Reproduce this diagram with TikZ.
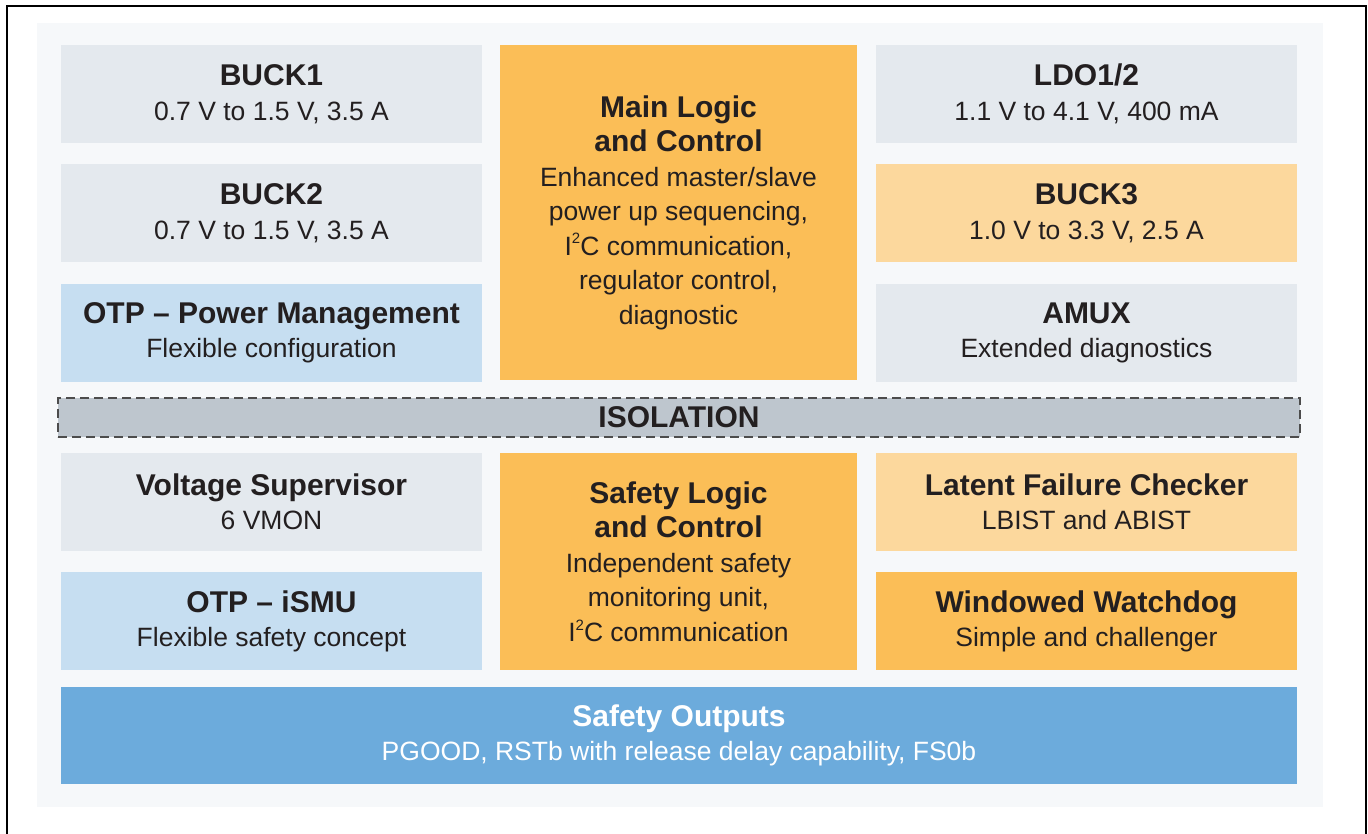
\documentclass[tikz,border=0pt]{standalone}
\usepackage{fontspec}
\setmainfont{Liberation Sans}
\usetikzlibrary{positioning}
\definecolor{panel}{HTML}{F6F8FA}
\definecolor{gry}{HTML}{E4E9EE}
\definecolor{lblu}{HTML}{C6DEF1}
\definecolor{org}{HTML}{FBBE57}
\definecolor{lorg}{HTML}{FCD89D}
\definecolor{dblu}{HTML}{6CABDC}
\definecolor{isol}{HTML}{BEC6CE}
\definecolor{txt}{HTML}{231F20}
\newcommand{\ttl}[1]{{\fontsize{30}{34.5}\selectfont\bfseries #1}}
\newcommand{\iic}{I\raisebox{0.42em}{\fontsize{15}{15}\selectfont 2}C}
\tikzstyle{blk}=[minimum width=421pt,minimum height=98pt,inner sep=0pt,align=center,text=txt,font=\fontsize{26.5}{34.5}\selectfont]
\tikzstyle{mid}=[blk,minimum width=357pt,minimum height=335pt,fill=org]

\begin{document}
\begin{tikzpicture}[x=1pt,y=-1pt]
      \useasboundingbox (0,0) rectangle (1368,834);
      \draw[line width=2.5pt] (7,834) -- (7,6) -- (1366,6) -- (1366,834);
      \fill[panel] (37,23) rectangle (1323,807);

      % upper part
      \node [blk,fill=gry]  (buck1) at (271.5,94) {\ttl{BUCK1}\\0.7 V to 1.5 V, 3.5 A};
      \node [blk,fill=gry]  (buck2) [below=21pt of buck1] {\ttl{BUCK2}\\0.7 V to 1.5 V, 3.5 A};
      \node [blk,fill=lblu] (otppm) [below=21pt of buck2] {\ttl{OTP -- Power Management}\\Flexible configuration};
      \node [mid] (mainlc) at (678.5,212.5) {\ttl{Main Logic}\\\ttl{and Control}\\Enhanced master/slave\\power up sequencing,\\\iic\ communication,\\regulator control,\\diagnostic};
      \node [blk,fill=gry]  (ldo)   at (1086.5,94) {\ttl{LDO1/2}\\1.1 V to 4.1 V, 400 mA};
      \node [blk,fill=lorg] (buck3) [below=21pt of ldo] {\ttl{BUCK3}\\1.0 V to 3.3 V, 2.5 A};
      \node [blk,fill=gry]  (amux)  [below=21pt of buck3] {\ttl{AMUX}\\Extended diagnostics};

      \node [blk,minimum width=1242pt,minimum height=39pt,fill=isol,draw=black!70,dashed,
             dash pattern=on 9pt off 5pt,line width=2pt] (iso) at (679,417.5) {\ttl{ISOLATION}};

      % lower part
      \node [blk,fill=gry]  (vsup)  at (271.5,502) {\ttl{Voltage Supervisor}\\6 VMON};
      \node [blk,fill=lblu] (otpis) [below=21pt of vsup] {\ttl{OTP -- iSMU}\\Flexible safety concept};
      \node [mid,minimum height=217pt] (safelc) at (678.5,561.5) {\ttl{Safety Logic}\\\ttl{and Control}\\Independent safety\\monitoring unit,\\\iic\ communication};
      \node [blk,fill=lorg] (lfc)   at (1086.5,502) {\ttl{Latent Failure Checker}\\LBIST and ABIST};
      \node [blk,fill=org]  (wwd)   [below=21pt of lfc] {\ttl{Windowed Watchdog}\\Simple and challenger};

      \node [blk,minimum width=1236pt,minimum height=97pt,fill=dblu,text=white] (sout) at (679,735.5) {\ttl{Safety Outputs}\\PGOOD, RSTb with release delay capability, FS0b};
    \end{tikzpicture}
\end{document}
